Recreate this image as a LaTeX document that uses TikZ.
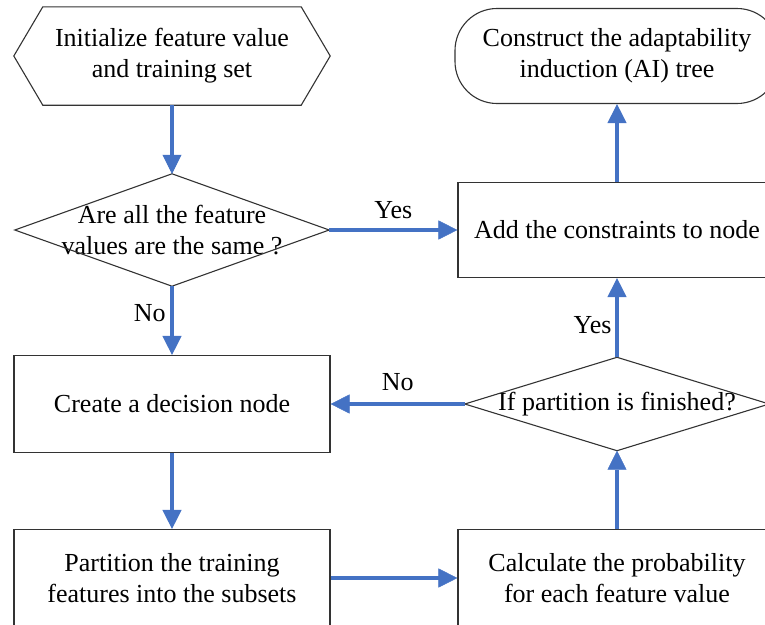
\documentclass[tikz,border=0pt]{standalone}
\usepackage{fontspec}
\setmainfont{Liberation Serif}
\usetikzlibrary{arrows.meta,positioning}
\tikzset{>/.tip={Triangle[length=19pt,width=19pt,line width=0.5pt]}}
\definecolor{flowblue}{RGB}{68,114,196}
\tikzset{outline/.style={draw=black!80,line width=1.1pt}}
\tikzset{process/.style={rectangle,outline,minimum width=318pt,minimum height=97pt,align=center,inner sep=0pt}}
\tikzset{terminal/.style={process,rounded corners=42pt,minimum width=324pt,minimum height=95pt}}
\tikzset{hexbox/.style={rectangle,minimum width=316pt,minimum height=98pt,align=center,inner sep=0pt}}
\tikzset{choice/.style={rectangle,minimum width=314pt,minimum height=112pt,align=center,inner sep=0pt}}
\tikzset{flow/.style={->,draw=flowblue,fill=flowblue,line width=4.5pt}}

\begin{document}
\begin{tikzpicture}[x=1pt,y=1pt,node distance=174pt,font=\fontsize{26}{31}\selectfont]
        \useasboundingbox (0,0) rectangle (765,-624);
        \node(init)[hexbox] at (172,-56){Initialize feature value\\and training set};
        \node(same)[choice,below of=init]{Are all the feature\\values are the same ?};
        \node(create)[process,minimum width=316pt,below of=same]{Create a decision node};
        \node(part)[process,minimum width=316pt,below of=create]{Partition the training\\features into the subsets};
        \node(term)[terminal,node distance=445pt,right of=init]{Construct the adaptability\\induction (AI) tree};
        \node(add)[process,minimum height=95pt,node distance=445pt,right of=same]{Add the constraints to node};
        \node(check)[choice,minimum width=304pt,minimum height=93pt,node distance=445pt,right of=create]{If partition is finished?};
        \node(calc)[process,node distance=445pt,right of=part]{Calculate the probability\\for each feature value};
        % hexagon and diamonds
        \draw[outline] ([xshift=29pt]init.north west) -- ([xshift=-29pt]init.north east) -- (init.east)
          -- ([xshift=-29pt]init.south east) -- ([xshift=29pt]init.south west) -- (init.west) -- cycle;
        \draw[outline] (same.north) -- (same.east) -- (same.south) -- (same.west) -- cycle;
        \draw[outline] (check.north) -- (check.east) -- (check.south) -- (check.west) -- cycle;
        \draw[flow]
        (init) edge (same)
        (same) edge node[left,inner sep=4pt,pos=0.39]{No} (create)
        (same) edge node[above=6pt]{Yes} (add)
        (create) edge (part)
        (part) edge (calc)
        (calc) edge (check)
        (check) edge node[above=8pt]{No} (create)
        (check) edge node[left,pos=0.41]{Yes} (add)
        (add) edge (term);
      \end{tikzpicture}
\end{document}
